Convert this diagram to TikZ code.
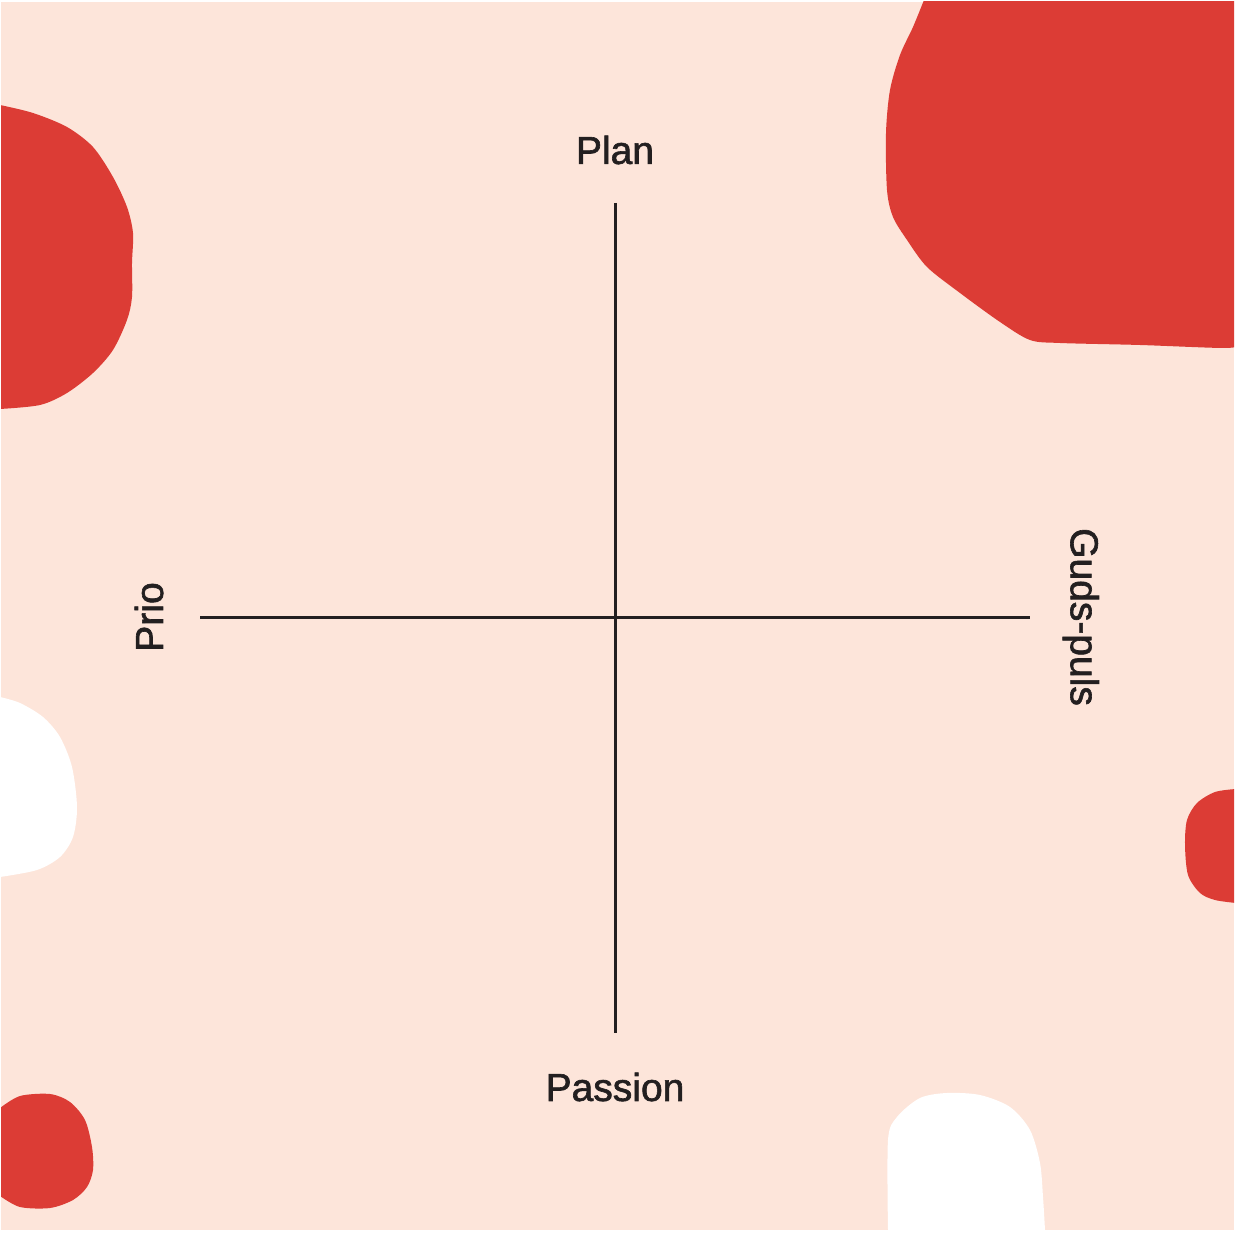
\documentclass[tikz,border=0pt]{standalone}
\usepackage{fontspec}
\setmainfont{Liberation Sans}
\newfontfamily\axisfont[FakeBold=1.6]{Liberation Sans}
\usepackage{tikz}
\definecolor{QuadPeach}{RGB}{253, 229, 218}
\definecolor{QuadRed}{RGB}{220, 60, 53}
\definecolor{QuadInk}{RGB}{35, 31, 32}

\begin{document}
\begin{tikzpicture}[x=0.5pt, y=-0.5pt]
  \tikzstyle{axislabel} = [inner sep=0pt, text=QuadInk, font=\axisfont\fontsize{19.5}{24}\selectfont]
  \tikzstyle{axis} = [draw=QuadInk, line width=1.5pt]
  \tikzstyle{redblob} = [fill=QuadRed]
  \tikzstyle{paleblob} = [fill=white]

  \useasboundingbox (0,0) rectangle (1236,1234);
  \fill[white] (0,0) rectangle (1236,1234);
  \fill[QuadPeach] (1,2) rectangle (1234,1230);

  % blobs along the edges
  \begin{scope}
    \clip (1,2) rectangle (1234,1230);
    \fill[redblob] (1300,-50) -- (929,-50) -- plot[smooth] coordinates {(924,0) (913,27) (900,55) (890,90) (886,133) (887,190) (893,217) (907,240) (927,267) (960,293) (1000,322) (1030,340) (1060,343) (1140,345) (1222,348) (1240,346)} -- (1300,346) -- cycle;
    \fill[redblob] (-50,105) -- plot[smooth] coordinates {(0,105) (33,113) (67,127) (93,147) (113,177) (127,207) (133,233) (132,263) (132,297) (127,320) (113,350) (93,373) (67,393) (40,405) (0,409)} -- (-50,409) -- cycle;
    \fill[paleblob] (-50,697) -- plot[smooth] coordinates {(0,697) (20,703) (43,717) (60,737) (72,767) (77,807) (73,837) (60,857) (37,870) (0,877)} -- (-50,877) -- cycle;
    \fill[redblob] (1300,789) -- plot[smooth] coordinates {(1236,789) (1215,792) (1197,803) (1187,820) (1185,845) (1188,875) (1200,893) (1215,900) (1236,903)} -- (1300,903) -- cycle;
    \fill[redblob] (-50,1110) -- plot[smooth] coordinates {(0,1108) (20,1096) (50,1094) (70,1102) (85,1120) (92,1147) (93,1170) (87,1187) (73,1200) (50,1208) (20,1207) (0,1196)} -- (-50,1196) -- cycle;
    \fill[paleblob] (888,1300) -- plot[smooth] coordinates {(888,1230) (888,1140) (897,1117) (920,1098) (947,1093) (980,1095) (1010,1107) (1030,1130) (1040,1163) (1043,1197) (1045,1230)} -- (1045,1300) -- cycle;
  \end{scope}

  \coordinate (top) at (615,203);
  \coordinate (bottom) at (615,1033);
  \coordinate (left) at (200,618);
  \coordinate (right) at (1030,618);

  \path [axis] (top) -- (bottom);
  \path [axis] (left) -- (right);

  \node [axislabel] (plan) at (615,150) {Plan};
  \node [axislabel] (passion) at (615,1087) {Passion};
  \node [axislabel, rotate=90] (prio) at (149,617) {Prio};
  \node [axislabel, rotate=-90, anchor=mid] (pulse) at (1076,617) {Guds-puls};
\end{tikzpicture}
\end{document}
